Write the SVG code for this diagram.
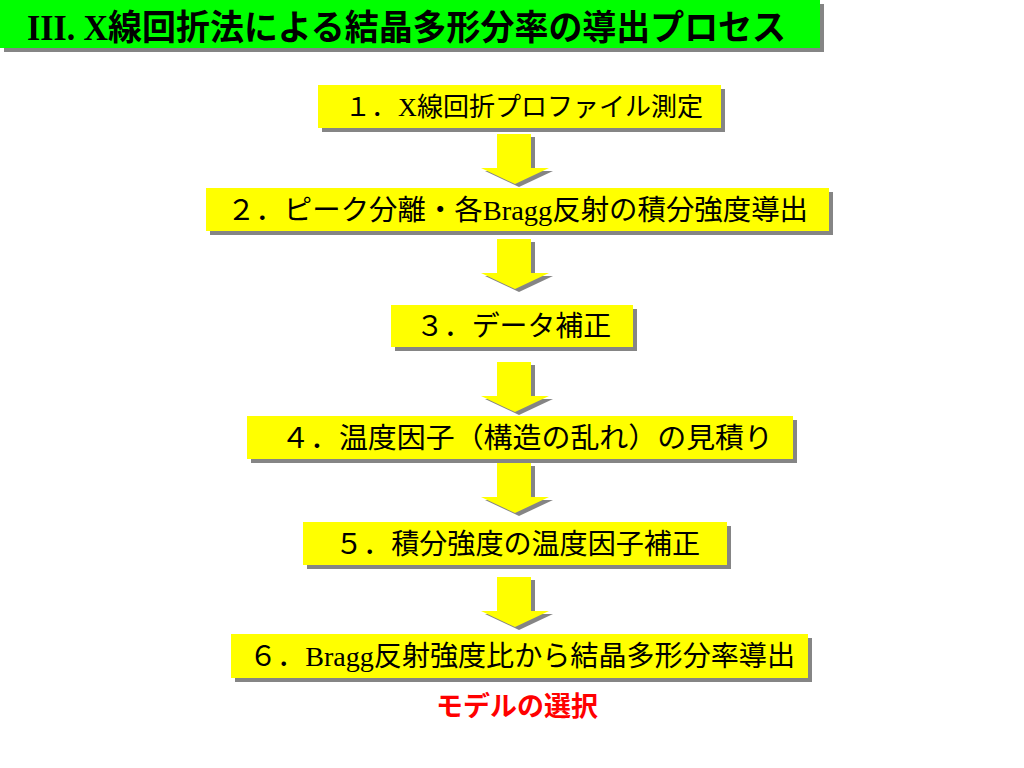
<svg xmlns="http://www.w3.org/2000/svg" width="1024" height="768" viewBox="0 0 1024 768">
<style>
.shadow{fill:#858585}
.box{fill:#FFFF00}
.t{font-family:"Noto Sans CJK JP","Noto Sans CJK SC",sans-serif;font-size:28px;fill:#000}
.t1{font-family:"Noto Sans CJK JP","Noto Sans CJK SC",sans-serif;font-size:26px;fill:#000}
.lat{font-family:"Liberation Serif","Noto Sans CJK JP",serif}
.title{font-family:"Noto Sans CJK JP",sans-serif;font-weight:bold;font-size:35px;fill:#000}
.red{font-family:"Noto Sans CJK JP",sans-serif;font-weight:bold;font-size:27px;fill:#FF0000}
</style>
<defs>
<path id="arr" d="M497,0 H531 V34 H549 L515,50 L481,34 H497 Z"/>
</defs>
<rect width="1024" height="768" fill="#FFFFFF"/>
<g id="title">
<rect x="4" y="4" width="820" height="48" class="shadow"/>
<rect x="0" y="0" width="820" height="48" fill="#00FF00"/>
<text x="27" y="40" class="title" textLength="759" lengthAdjust="spacingAndGlyphs"><tspan class="lat">III. X</tspan>線回折法による結晶多形分率の導出プロセス</text>
</g>
<g id="connectors">
<use href="#arr" x="4" y="137" class="shadow"/>
<use href="#arr" y="134" class="box"/>
<use href="#arr" x="4" y="242" class="shadow"/>
<use href="#arr" y="239" class="box"/>
<use href="#arr" x="4" y="365" class="shadow"/>
<use href="#arr" y="362" class="box"/>
<use href="#arr" x="4" y="466" class="shadow"/>
<use href="#arr" y="463" class="box"/>
<use href="#arr" x="4" y="580" class="shadow"/>
<use href="#arr" y="577" class="box"/>
</g>
<g id="step1">
<rect x="322" y="89" width="403" height="43" class="shadow"/>
<rect x="318" y="85" width="403" height="43" class="box"/>
<text y="116" class="t1"><tspan x="345">１．</tspan><tspan x="398" class="lat">X</tspan><tspan x="417">線回折プロファイル測定</tspan></text>
</g>
<g id="step2">
<rect x="210" y="192" width="623" height="43" class="shadow"/>
<rect x="206" y="188" width="623" height="43" class="box"/>
<text x="227" y="220" class="t" textLength="581" lengthAdjust="spacingAndGlyphs">２．ピーク分離・各<tspan class="lat">Bragg</tspan>反射の積分強度導出</text>
</g>
<g id="step3">
<rect x="395" y="309" width="242" height="42" class="shadow"/>
<rect x="391" y="305" width="242" height="42" class="box"/>
<text x="416" y="336" class="t" textLength="195" lengthAdjust="spacingAndGlyphs">３．データ補正</text>
</g>
<g id="step4">
<rect x="251" y="420" width="546" height="43" class="shadow"/>
<rect x="247" y="416" width="546" height="43" class="box"/>
<text x="281" y="448" class="t" textLength="492" lengthAdjust="spacingAndGlyphs">４．温度因子（構造の乱れ）の見積り</text>
</g>
<g id="step5">
<rect x="307" y="526" width="424" height="43" class="shadow"/>
<rect x="303" y="522" width="424" height="43" class="box"/>
<text x="335" y="554" class="t" textLength="365" lengthAdjust="spacingAndGlyphs">５．積分強度の温度因子補正</text>
</g>
<g id="step6">
<rect x="235" y="638" width="577" height="44" class="shadow"/>
<rect x="231" y="634" width="577" height="44" class="box"/>
<text x="249" y="666" class="t" textLength="546" lengthAdjust="spacingAndGlyphs">６．<tspan class="lat">Bragg</tspan>反射強度比から結晶多形分率導出</text>
</g>
<g id="model">
<text x="517" y="716" class="red" text-anchor="middle">モデルの選択</text>
</g>
</svg>
